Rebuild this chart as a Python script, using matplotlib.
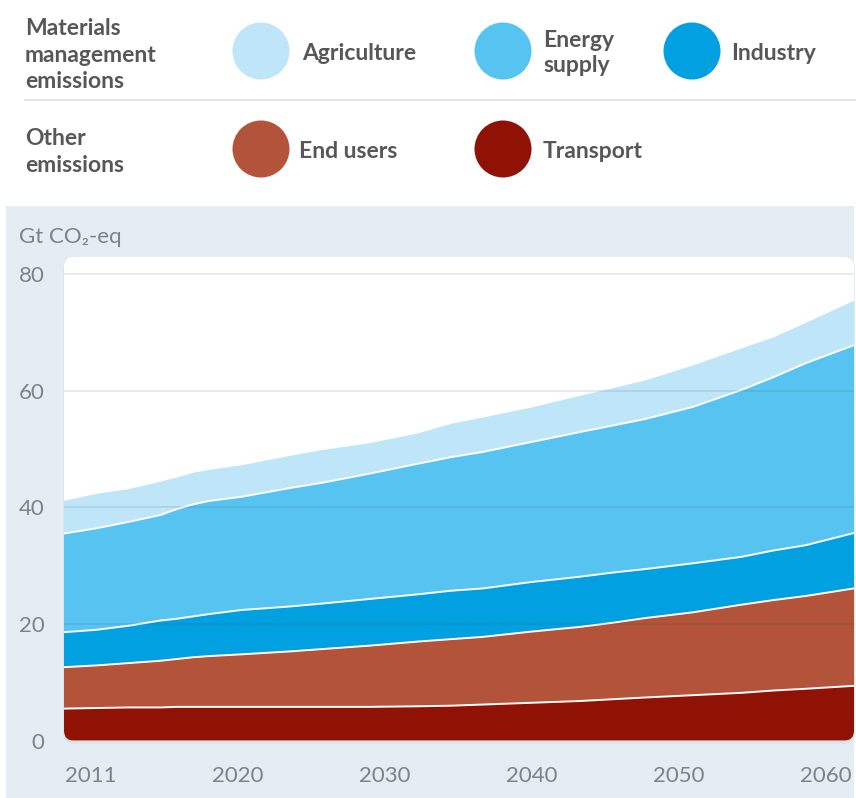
import numpy as np
import matplotlib
matplotlib.use("Agg")
import matplotlib.pyplot as plt
from matplotlib.patches import FancyBboxPatch, Circle, Rectangle
from matplotlib.lines import Line2D

plt.rcParams['font.family'] = ['Lato', 'DejaVu Sans']

# ---------------- data ----------------
years = [2011, 2013, 2015, 2017, 2018, 2019, 2020, 2022, 2025, 2027, 2030,
         2033, 2035, 2037, 2040, 2043, 2045, 2047, 2050, 2053, 2055, 2057, 2060]
transport   = [5.5, 5.6, 5.7, 5.7, 5.8, 5.8, 5.8, 5.8, 5.8, 5.8, 5.8,
               5.9, 6.0, 6.2, 6.5, 6.8, 7.1, 7.4, 7.8, 8.2, 8.6, 8.9, 9.4]
end_users   = [7.1, 7.3, 7.6, 8.0, 8.2, 8.5, 8.7, 9.0, 9.5, 9.9, 10.5,
               11.1, 11.4, 11.6, 12.2, 12.7, 13.1, 13.6, 14.2, 15.1, 15.5, 15.9, 16.7]
industry    = [6.0, 6.1, 6.4, 6.9, 6.9, 7.0, 7.2, 7.6, 7.7, 7.8, 8.0,
               8.1, 8.3, 8.3, 8.5, 8.6, 8.6, 8.4, 8.4, 8.2, 8.5, 8.7, 9.5]
energy      = [16.9, 17.4, 17.8, 18.1, 18.8, 19.2, 19.4, 19.4, 20.3, 20.7, 21.5,
               22.4, 22.9, 23.4, 24.0, 24.8, 25.2, 25.7, 26.8, 28.6, 29.7, 31.2, 32.2]
agriculture = [5.6, 5.9, 5.6, 5.7, 5.4, 5.4, 5.3, 5.4, 5.5, 5.6, 5.2,
               5.2, 5.7, 5.9, 5.9, 6.2, 6.4, 6.6, 7.1, 7.1, 6.8, 6.9, 7.6]

series_names = ["Transport", "End users", "Industry", "Energy supply", "Agriculture"]
colors = {"Transport": "#8f1204", "End users": "#b3533a", "Industry": "#00a0e1",
          "Energy supply": "#57c3f1", "Agriculture": "#bfe5f9"}
tick_years = ["2011", "2020", "2030", "2040", "2050", "2060"]
y_ticks = [0, 20, 40, 60, 80]

# ---------------- figure ----------------
W, H = 856, 798
fig = plt.figure(figsize=(W / 100, H / 100), dpi=100)
fig.patch.set_facecolor("white")

def fx(px):
    return px / W

def fy(py):
    return 1 - py / H

# light-blue panel
fig.patches.append(Rectangle((fx(6), 0), fx(854) - fx(6), fy(206), transform=fig.transFigure,
                             facecolor="#e4ecf4", edgecolor="none", zorder=-3))

# axes
ax_left, ax_right, ax_top, ax_bottom = 64, 854, 257, 740.7
ax = fig.add_axes([fx(ax_left), fy(ax_bottom), fx(ax_right - ax_left), (ax_bottom - ax_top) / H])
ax.set_zorder(2)
ax.patch.set_visible(False)
for s in ax.spines.values():
    s.set_visible(False)

# rounded white background (in inches)
x0_in, y0_in = ax_left / 100, (H - ax_bottom) / 100
w_in, h_in = (ax_right - ax_left) / 100, (ax_bottom - ax_top) / 100
shadow = FancyBboxPatch((x0_in, y0_in - 0.02), w_in, h_in,
                        boxstyle="round,pad=0.01,rounding_size=0.11",
                        transform=fig.dpi_scale_trans, facecolor="#d5dde8",
                        edgecolor="none", alpha=0.6, zorder=-2)
fig.patches.append(shadow)
bg = FancyBboxPatch((x0_in, y0_in), w_in, h_in,
                    boxstyle="round,pad=0,rounding_size=0.1",
                    transform=fig.dpi_scale_trans, facecolor="white",
                    edgecolor="none", zorder=0)
ax.add_patch(bg)
bg.set_clip_on(False)

x = np.array(years, dtype=float)
data = {"Transport": transport, "End users": end_users, "Industry": industry,
        "Energy supply": energy, "Agriculture": agriculture}
base = np.zeros_like(x)
tops = []
for name in series_names:
    top = base + np.array(data[name])
    coll = ax.fill_between(x, base, top, facecolor=colors[name], linewidth=0, zorder=2)
    coll.set_clip_path(bg)
    tops.append(top)
    base = top

for top in tops[:-1]:
    ln, = ax.plot(x, top, color="white", lw=1.4, zorder=3)
    ln.set_clip_path(bg)

ax.set_xlim(2011, 2060)
ax.set_ylim(0, (ax_bottom - ax_top) / 5.835)

for v in y_ticks[1:]:
    ax.axhline(v, color=(0.25, 0.3, 0.35, 0.13), lw=1.3, zorder=4)

ax.set_yticks(y_ticks)
ax.set_yticklabels([str(v) for v in y_ticks])
span = 2060 - 2011
pad_l = 27 / (ax_right - ax_left) * span
pad_r = 28 / (ax_right - ax_left) * span
xt = np.linspace(2011 + pad_l, 2060 - pad_r, len(tick_years))
ax.set_xticks(xt)
ax.set_xticklabels(tick_years)
ax.tick_params(axis="both", length=0, labelsize=16, labelcolor="#7d8389")
ax.tick_params(axis="y", pad=14)
ax.tick_params(axis="x", pad=18)

fig.text(fx(19), fy(237), "Gt CO\u2082-eq", fontsize=16, color="#7d8389",
         ha="left", va="center")

# ---------------- legend ----------------
legend_color = "#575757"
fig.text(fx(25), fy(55), "Materials\nmanagement\nemissions", fontsize=16.5,
         color=legend_color, ha="left", va="center", fontweight="bold", linespacing=1.3)
fig.text(fx(25), fy(152), "Other\nemissions", fontsize=16.5,
         color=legend_color, ha="left", va="center", fontweight="bold", linespacing=1.3)
fig.add_artist(Line2D([fx(25), 1], [fy(100), fy(100)], transform=fig.transFigure,
                      color="#e6e6e6", lw=1.5))

legend_items = [
    ("Agriculture", 261, 51, "Agriculture", 302),
    ("Energy supply", 503, 51, "Energy\nsupply", 543),
    ("Industry", 692, 51, "Industry", 731),
    ("End users", 261, 149, "End users", 299),
    ("Transport", 503, 149, "Transport", 543),
]
for name, cx, cy, label, tx in legend_items:
    circ = Circle((cx / 100, (H - cy) / 100), 0.285, transform=fig.dpi_scale_trans,
                  facecolor=colors[name], edgecolor="none")
    fig.patches.append(circ)
    fig.text(fx(tx), fy(cy + 2), label, fontsize=16.5, color=legend_color,
             ha="left", va="center", fontweight="bold", linespacing=1.2)

fig.savefig("out.png", dpi=100)
